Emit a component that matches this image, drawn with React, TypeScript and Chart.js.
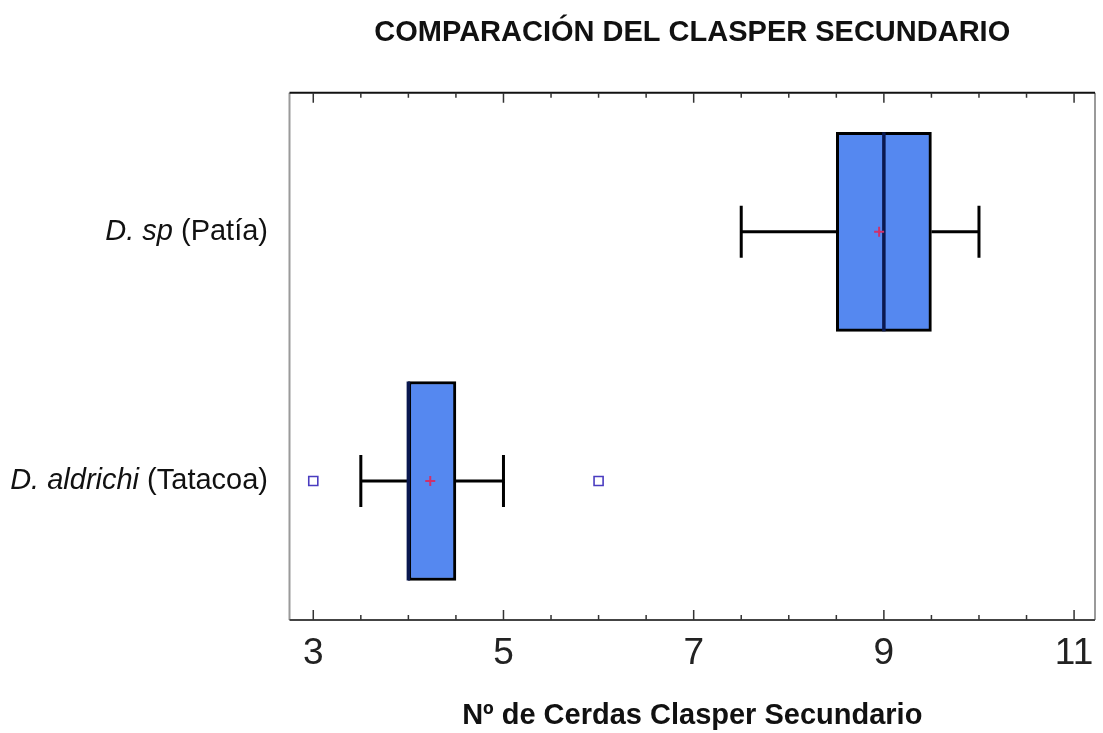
import React, { useEffect, useRef } from 'react';
import { Chart, registerables } from 'chart.js';

Chart.register(...registerables);

// ---- data ----
const chartTitle = 'COMPARACIÓN DEL CLASPER SECUNDARIO';
const xTitle = 'Nº de Cerdas Clasper Secundario';
const groupItalic = ['D. sp', 'D. aldrichi'];
const groupPlain = ['(Patía)', '(Tatacoa)'];
const groupPos = [2, 1];
const whiskerLow = [7.5, 3.5];
const q1 = [8.5, 4.0];
const median = [9.0, 4.0];
const q3 = [9.5, 4.5];
const whiskerHigh = [10.0, 5.0];
const means = [8.95, 4.23];
const outlierValues = [3, 6];
const outlierGroup = [1, 1];
const majorTicks = [3, 5, 7, 9, 11];
const minorTicks = [3.5, 4, 4.5, 5.5, 6, 6.5, 7.5, 8, 8.5, 9.5, 10, 10.5];

const FONT = '"Liberation Sans", Arial, Helvetica, sans-serif';
const NARROW = '"Liberation Sans Narrow", "Arial Narrow", "Liberation Sans", Arial, sans-serif';

const BAR_INDEX = 2;

const boxPlugin = {
  id: 'boxDecor',
  afterDatasetDraw(chart: any, args: any) {
    if (args.index !== BAR_INDEX) return;
    const { ctx } = chart;
    const xs = chart.scales.x;
    const ys = chart.scales.y;
    ctx.save();
    const capHalf = 26;
    for (let i = 0; i < groupPos.length; i++) {
      const y = ys.getPixelForValue(groupPos[i]);
      const xl = xs.getPixelForValue(whiskerLow[i]);
      const x1 = xs.getPixelForValue(q1[i]);
      const x3 = xs.getPixelForValue(q3[i]);
      const xh = xs.getPixelForValue(whiskerHigh[i]);
      ctx.strokeStyle = '#000';
      ctx.lineWidth = 3;
      ctx.beginPath();
      ctx.moveTo(xl, y); ctx.lineTo(x1, y);
      ctx.moveTo(x3, y); ctx.lineTo(xh, y);
      ctx.moveTo(xl, y - capHalf); ctx.lineTo(xl, y + capHalf);
      ctx.moveTo(xh, y - capHalf); ctx.lineTo(xh, y + capHalf);
      ctx.stroke();
      // median
      const meta = chart.getDatasetMeta(BAR_INDEX);
      const el = meta.data[i];
      const half = el ? el.height / 2 : 99;
      const xm = xs.getPixelForValue(median[i]);
      ctx.strokeStyle = '#0a1850';
      ctx.lineWidth = 3.5;
      ctx.beginPath();
      ctx.moveTo(xm, y - half); ctx.lineTo(xm, y + half);
      ctx.stroke();
    }
    ctx.restore();
  },
  afterDraw(chart: any) {
    const { ctx, chartArea: a } = chart;
    const xs = chart.scales.x;
    const ys = chart.scales.y;
    ctx.save();
    // frame
    ctx.lineWidth = 2;
    ctx.strokeStyle = '#9a9a9a';
    ctx.beginPath();
    ctx.moveTo(a.left, a.top); ctx.lineTo(a.left, a.bottom);
    ctx.moveTo(a.right, a.top); ctx.lineTo(a.right, a.bottom);
    ctx.stroke();
    ctx.strokeStyle = '#111';
    ctx.beginPath();
    ctx.moveTo(a.left, a.top); ctx.lineTo(a.right, a.top);
    ctx.stroke();
    ctx.strokeStyle = '#444';
    ctx.beginPath();
    ctx.moveTo(a.left, a.bottom); ctx.lineTo(a.right, a.bottom);
    ctx.stroke();
    // ticks (inside)
    ctx.lineWidth = 1.5;
    ctx.strokeStyle = '#333';
    ctx.beginPath();
    const drawTick = (v: number, len: number) => {
      const x = xs.getPixelForValue(v);
      ctx.moveTo(x, a.bottom); ctx.lineTo(x, a.bottom - len);
      ctx.moveTo(x, a.top); ctx.lineTo(x, a.top + len);
    };
    majorTicks.forEach((v) => drawTick(v, 10));
    minorTicks.forEach((v) => drawTick(v, 5));
    ctx.stroke();
    // category labels with italic species names
    const size = 29;
    ctx.fillStyle = '#111';
    ctx.textBaseline = 'middle';
    const right = 268;
    for (let i = 0; i < groupPos.length; i++) {
      const y = ys.getPixelForValue(groupPos[i]);
      ctx.font = `${size}px ${FONT}`;
      const plainW = ctx.measureText(groupPlain[i]).width;
      const spaceW = ctx.measureText(' ').width;
      ctx.textAlign = 'right';
      ctx.fillText(groupPlain[i], right, y);
      ctx.font = `italic ${size}px ${FONT}`;
      ctx.fillText(groupItalic[i], right - plainW - spaceW, y);
    }
    ctx.restore();
  },
};

export default function App() {
  const ref = useRef<HTMLCanvasElement>(null);
  useEffect(() => {
    document.body.style.margin = '0';
    const canvas = ref.current;
    if (!canvas) return;
    const chart = new Chart(canvas, {
      type: 'bar',
      data: {
        datasets: [
          {
            type: 'scatter',
            label: 'Media',
            data: means.map((m, i) => ({ x: m, y: groupPos[i] })),
            pointStyle: 'cross',
            pointRadius: 5,
            pointBorderWidth: 2,
            borderColor: '#d0306a',
            backgroundColor: '#d0306a',
          } as any,
          {
            type: 'scatter',
            label: 'Atípicos',
            data: outlierValues.map((v, i) => ({ x: v, y: outlierGroup[i] })),
            pointStyle: 'rect',
            pointRadius: 6.4,
            pointBorderWidth: 1.6,
            borderColor: '#4a3cc0',
            backgroundColor: 'rgba(255,255,255,0)',
          } as any,
          {
            type: 'bar',
            label: 'Caja',
            indexAxis: 'y',
            data: groupPos.map((p, i) => ({ x: [q1[i], q3[i]], y: p })),
            backgroundColor: '#5588f0',
            borderColor: '#000',
            borderWidth: 3,
            borderSkipped: false,
            barThickness: 199,
          } as any,
        ],
      },
      options: {
        animation: false,
        responsive: false,
        layout: { padding: { left: 0, right: 6, top: 0, bottom: 0 } },
        plugins: {
          legend: { display: false },
          tooltip: { enabled: false },
          title: {
            display: true,
            text: chartTitle,
            fullSize: false,
            color: '#111',
            font: { family: FONT, size: 29, weight: 'bold' },
            padding: { top: 16, bottom: 42 },
          },
        },
        scales: {
          x: {
            type: 'linear',
            position: 'bottom',
            offset: false,
            min: 2.75,
            max: 11.22,
            grid: { display: false, drawTicks: false, offset: false },
            border: { display: false },
            afterBuildTicks: (scale: any) => {
              scale.ticks = majorTicks.map((v) => ({ value: v }));
            },
            afterFit: (scale: any) => {
              scale.height = 113;
              scale.paddingLeft = 0;
              scale.paddingRight = 0;
            },
            ticks: {
              color: '#222',
              padding: 12,
              font: { family: NARROW, size: 37 },
              callback: (v: any) => String(v),
            },
            title: {
              display: true,
              text: xTitle,
              color: '#111',
              font: { family: FONT, size: 29, weight: 'bold' },
              padding: { top: 0, bottom: 0 },
            },
          },
          y: {
            type: 'linear',
            offset: false,
            min: 0.442,
            max: 2.558,
            grid: { display: false, drawTicks: false, offset: false },
            border: { display: false },
            ticks: { display: false },
            afterFit: (scale: any) => {
              scale.width = 289.5;
            },
          },
        },
      } as any,
      plugins: [boxPlugin],
    });
    return () => chart.destroy();
  }, []);
  return (
    <div style={{ width: 1103, height: 733, background: '#fff' }}>
      <canvas ref={ref} width={1103} height={733} style={{ display: 'block' }} />
    </div>
  );
}
